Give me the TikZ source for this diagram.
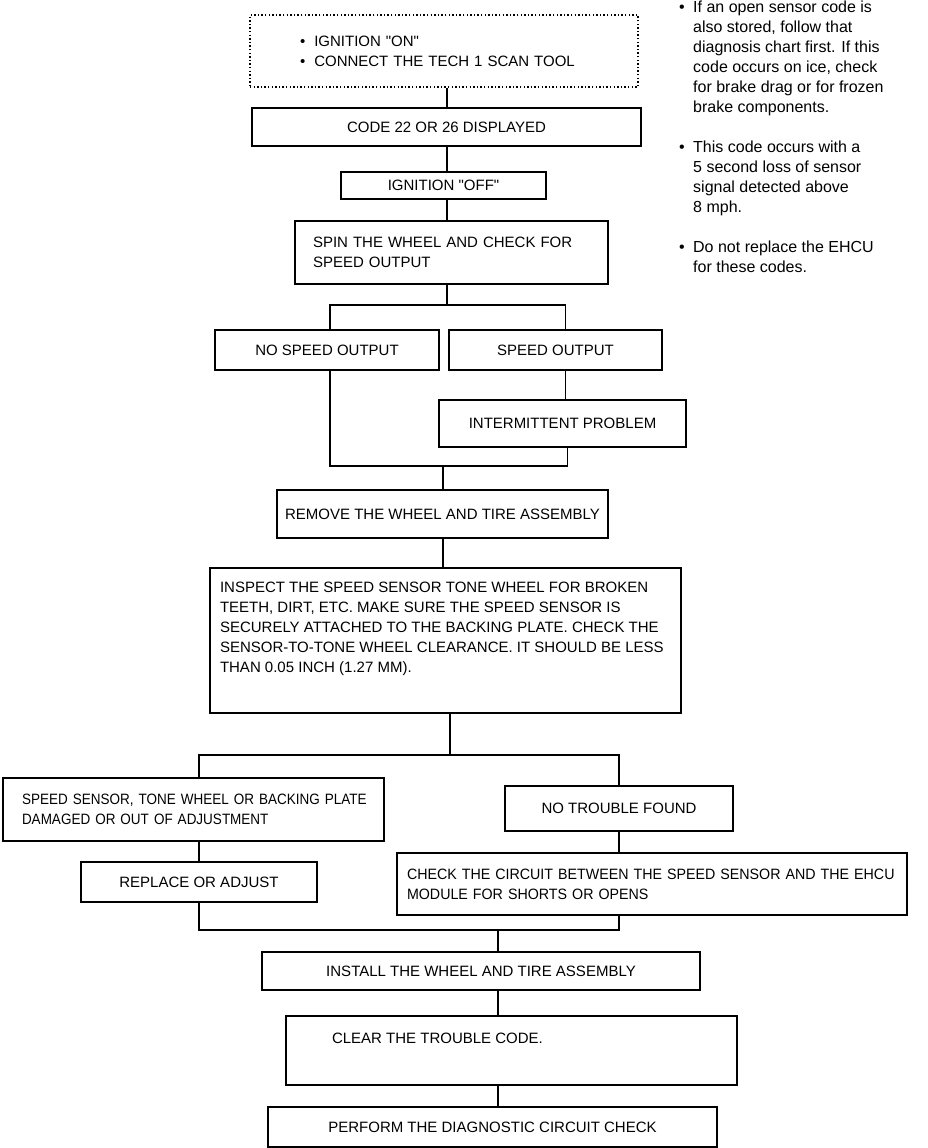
\documentclass[tikz,border=0pt]{standalone}
\usepackage{fontspec}
\setmainfont{Liberation Sans}
\newfontfamily\narrowfont[FakeStretch=0.9]{Liberation Sans}
\newfontfamily\semifont[FakeStretch=0.95]{Liberation Sans}
\tikzset{
  flowbox/.style={draw, line width=1.5pt, inner sep=0pt, align=center},
  leftbox/.style={flowbox, align=left},
  dotbox/.style={flowbox, line width=1.3pt, dash pattern=on 1.4pt off 2.2pt},
  flowline/.style={line width=1.6pt},
  notetext/.style={font=\fontsize{16}{20}\selectfont, align=left, inner sep=0pt}
}

\begin{document}
\begin{tikzpicture}[
  x=1pt, y=-1pt,
  font=\fontsize{15}{20}\selectfont
]
\useasboundingbox (0,0) rectangle (928,1148);

% top of the chart
\node[dotbox, leftbox, minimum height=72pt, text width=288pt, inner xsep=50pt] at (444,51) (start)
  {\textbullet\hspace{9pt}IGNITION \textquotedbl ON\textquotedbl\\\textbullet\hspace{9pt}CONNECT THE TECH 1 SCAN TOOL};
\node[flowbox, minimum width=389pt, minimum height=38pt] at (446.5,127) (code) {CODE 22 OR 26 DISPLAYED};
\node[flowbox, minimum width=205pt, minimum height=27pt] at (443.5,185.5) (off) {IGNITION \textquotedbl OFF\textquotedbl};
\node[leftbox, minimum height=63pt, text width=277pt, inner xsep=18pt] at (451.5,252.5) (spin)
  {SPIN THE WHEEL AND CHECK FOR\\SPEED OUTPUT};

% speed output branch
\node[flowbox, minimum width=224pt, minimum height=40pt] at (327,350) (nospeed) {NO SPEED OUTPUT};
\node[flowbox, minimum width=213pt, minimum height=40pt] at (555.5,350) (speed) {SPEED OUTPUT};
\node[flowbox, minimum width=247pt, minimum height=47pt] at (562.5,423.5) (interm) {INTERMITTENT PROBLEM};
\node[flowbox, minimum width=331pt, minimum height=48pt] at (442.5,514) (remove) {REMOVE THE WHEEL AND TIRE ASSEMBLY};
\node[flowbox, inner xsep=10pt] at (445.5,640.5) (inspect)
  {\parbox[c][145pt][t]{451pt}{\vspace*{14pt}INSPECT THE SPEED SENSOR TONE WHEEL FOR BROKEN\\
  TEETH, DIRT, ETC. MAKE SURE THE SPEED SENSOR IS\\
  SECURELY ATTACHED TO THE BACKING PLATE. CHECK THE\\
  SENSOR-TO-TONE WHEEL CLEARANCE. IT SHOULD BE LESS\\
  THAN 0.05 INCH (1.27 MM).}};

% inspection result branch
\node[leftbox, font=\fontsize{15}{20}\selectfont\narrowfont, minimum height=63pt, text width=343pt, inner xsep=19pt] at (193.5,809.5) (damaged)
  {\mbox{SPEED SENSOR, TONE WHEEL OR BACKING PLATE}\\DAMAGED OR OUT OF ADJUSTMENT};
\node[flowbox, minimum width=228pt, minimum height=45pt] at (619,808.5) (notrouble) {NO TROUBLE FOUND};
\node[flowbox, minimum width=236pt, minimum height=40pt] at (199,882) (replace) {REPLACE OR ADJUST};
\node[leftbox, font=\fontsize{15}{20}\selectfont\semifont, minimum height=62pt, text width=490pt, inner xsep=10pt] at (652,884) (circuit)
  {\mbox{CHECK THE CIRCUIT BETWEEN THE SPEED SENSOR AND THE EHCU}\\MODULE FOR SHORTS OR OPENS};

% end of the chart
\node[flowbox, minimum width=438pt, minimum height=38pt] at (481,971) (install) {INSTALL THE WHEEL AND TIRE ASSEMBLY};
\node[flowbox, inner xsep=46pt] at (511.5,1050.5) (clear)
  {\parbox[c][69pt][t]{359pt}{\vspace*{17pt}CLEAR THE TROUBLE CODE.}};
\node[flowbox, minimum width=449pt, minimum height=40pt] at (492.5,1127) (perform) {PERFORM THE DIAGNOSTIC CIRCUIT CHECK};

% notes on the right
\node[notetext, anchor=north west] at (679,0.5) (notes)
  {\makebox[14pt][l]{\textbullet}If an open sensor code is\\
   \hspace*{14pt}also stored, follow that\\
   \hspace*{14pt}diagnosis chart first. If this\\
   \hspace*{14pt}code occurs on ice, check\\
   \hspace*{14pt}for brake drag or for frozen\\
   \hspace*{14pt}brake components.\\[20pt]
   \makebox[14pt][l]{\textbullet}This code occurs with a\\
   \hspace*{14pt}5 second loss of sensor\\
   \hspace*{14pt}signal detected above\\
   \hspace*{14pt}8 mph.\\[20pt]
   \makebox[14pt][l]{\textbullet}Do not replace the EHCU\\
   \hspace*{14pt}for these codes.};

\coordinate (split1) at (447,305);
\coordinate (join1) at (443,466);
\coordinate (split2) at (450,755);
\coordinate (join2) at (498,930);

% main line
\draw[flowline] (start.south -| split1) -- (code.north -| split1);
\draw[flowline] (code.south -| split1) -- (off.north -| split1);
\draw[flowline] (off.south -| split1) -- (spin.north -| split1);
\draw[flowline] (spin.south -| split1) -- (split1);
\draw[flowline] ([xshift=3pt]nospeed.north) |- (split1) -| ([xshift=3pt]interm.north |- speed.north);
\draw[flowline] ([xshift=3pt]interm.north |- speed.south) -- ([xshift=3pt]interm.north);
\draw[flowline] ([xshift=3pt]nospeed.south) |- (join1) -| ([xshift=5pt]interm.south);
\draw[flowline] (join1) -- (remove.north -| join1);
\draw[flowline] (remove.south -| join1) -- (inspect.north -| join1);
\draw[flowline] (inspect.south -| split2) -- (split2);
% result branch
\draw[flowline] (replace.north |- damaged.north) |- (split2) -| (notrouble.north);
\draw[flowline] (replace.north |- damaged.south) -- (replace.north);
\draw[flowline] (notrouble.south) -- (notrouble.south |- circuit.north);
\draw[flowline] (replace.south) |- (join2) -| (notrouble.south |- circuit.south);
\draw[flowline] (join2) -- (install.north -| join2);
\draw[flowline] (install.south -| join2) -- (clear.north -| join2);
\draw[flowline] (clear.south -| join2) -- (perform.north -| join2);
\end{tikzpicture}
\end{document}
